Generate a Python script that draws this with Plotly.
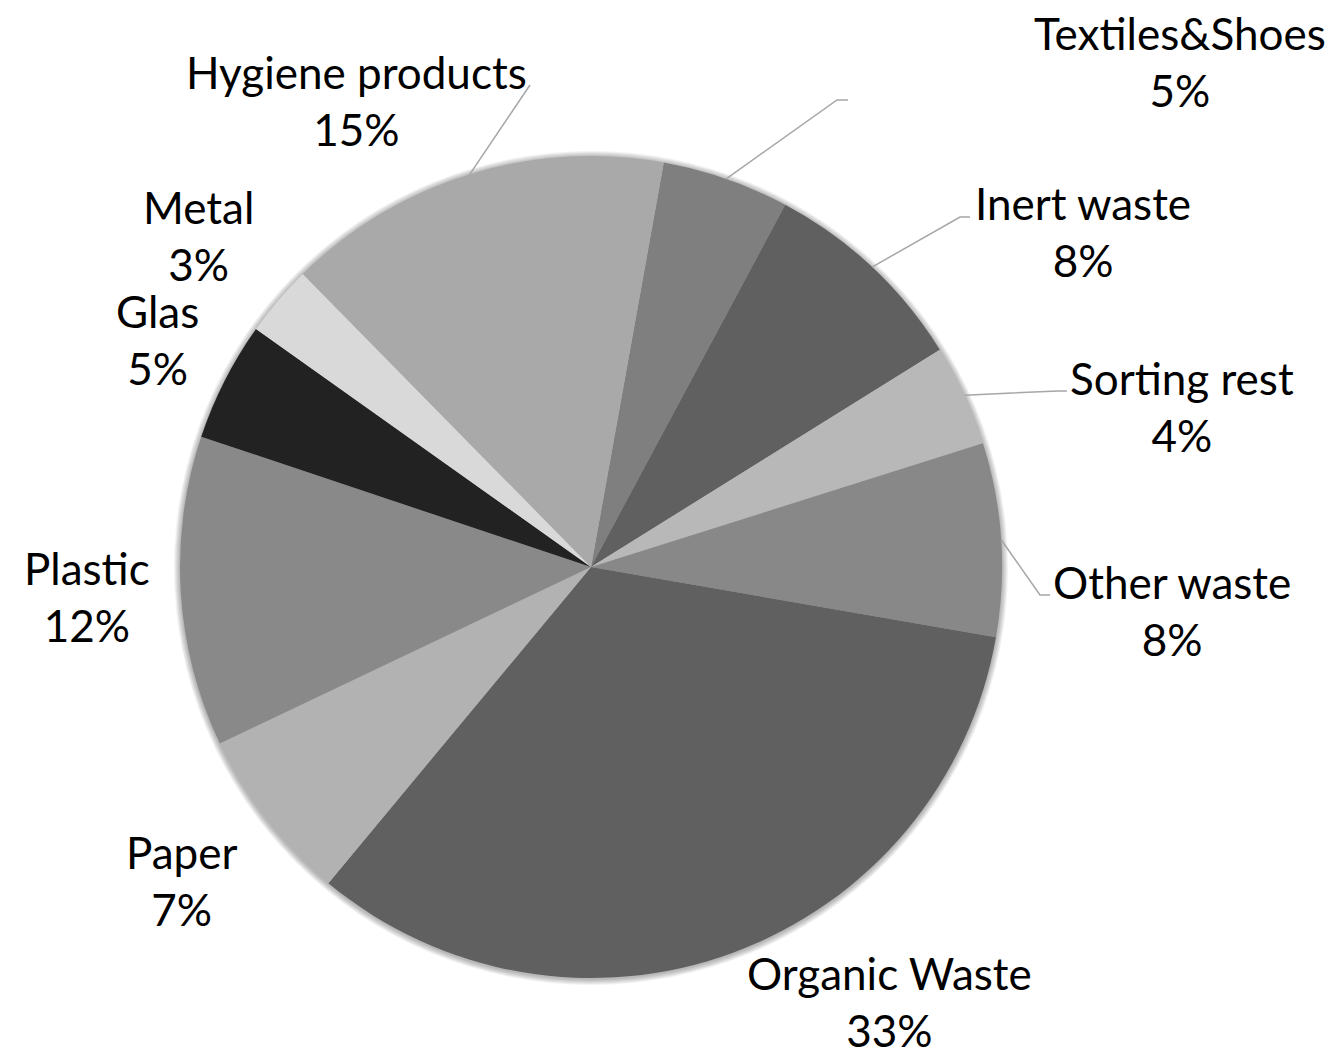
import math
import plotly.graph_objects as go

# Waste composition, clockwise from the slice just right of 12 o'clock
categories = ["Textiles&Shoes", "Inert waste", "Sorting rest", "Other waste",
              "Organic Waste", "Paper", "Plastic", "Glas", "Metal", "Hygiene products"]
shares = [5.0, 8.3, 4.0, 7.6, 33.3, 6.9, 12.2, 4.7, 2.8, 15.2]
colors = ["#7f7f7f", "#606060", "#b8b8b8", "#888888", "#606060",
          "#b2b2b2", "#898989", "#222222", "#d9d9d9", "#a9a9a9"]

W, H = 1337, 1057
CX, CY, R = 591, 567, 411          # pie centre and radius in pixels
ROTATION = 10.2                     # start angle, degrees clockwise from 12 o'clock

# label centres (pixels) and leader-line knee/end points
label_pos = {
    "Textiles&Shoes": (1180, 61),
    "Inert waste": (1083, 232),
    "Sorting rest": (1182, 407),
    "Other waste": (1172, 610),
    "Organic Waste": (889, 1001),
    "Paper": (182, 880),
    "Plastic": (87, 596),
    "Glas": (157, 340),
    "Metal": (198, 236),
    "Hygiene products": (356, 101),
}
leaders = {
    "Textiles&Shoes": [(837, 100), (848, 100)],
    "Inert waste": [(960, 217), (970, 217)],
    "Sorting rest": [(1058, 391), (1067, 391)],
    "Other waste": [(1040, 595), (1050, 595)],
    "Hygiene products": [(530, 85)],
}


def px(x):
    return x / W


def py(y):
    return 1 - y / H


fig = go.Figure()

# soft drop shadow around the pie
shapes = []
for k in range(6):
    rr = R + 1 + k
    shapes.append(dict(type="circle", xref="paper", yref="paper", layer="below",
                       x0=px(CX - rr), x1=px(CX + rr), y0=py(CY + rr + 1), y1=py(CY - rr + 1),
                       fillcolor="rgba(0,0,0,0.05)", line=dict(width=0)))

fig.add_trace(go.Pie(
    labels=categories,
    values=shares,
    sort=False,
    direction="clockwise",
    rotation=ROTATION,
    marker=dict(colors=colors, line=dict(width=0)),
    textinfo="none",
    hoverinfo="label+percent",
    showlegend=False,
    domain=dict(x=[px(CX - R), px(CX + R)], y=[py(CY + R), py(CY - R)]),
))

total = sum(shares)
cum = 0.0
annotations = []
for name, v in zip(categories, shares):
    mid = math.radians(ROTATION + (cum + v / 2) / total * 360)
    cum += v
    pct = round(v / total * 100)
    lx, ly = label_pos[name]
    annotations.append(dict(
        x=px(lx), y=py(ly), xref="paper", yref="paper",
        text=f"{name}<br>{pct}%", showarrow=False,
        xanchor="center", yanchor="middle", align="center", borderpad=0,
        font=dict(family="Lato, Carlito, sans-serif", size=44, color="#000000"),
    ))
    if name in leaders:
        ex, ey = CX + R * math.sin(mid), CY - R * math.cos(mid)
        pts = [(ex, ey)] + leaders[name]
        path = "M " + " L ".join(f"{px(a)},{py(b)}" for a, b in pts)
        shapes.append(dict(type="path", xref="paper", yref="paper", path=path,
                           line=dict(color="#a6a6a6", width=1.5)))

fig.update_layout(
    width=W, height=H,
    margin=dict(l=0, r=0, t=0, b=0),
    paper_bgcolor="white", plot_bgcolor="white",
    shapes=shapes,
    annotations=annotations,
)

fig.write_html("out.html")
